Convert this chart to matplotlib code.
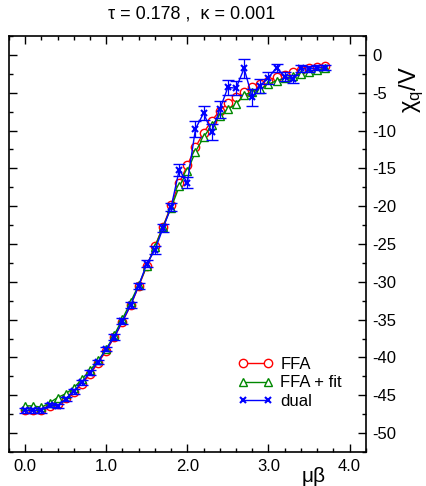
import numpy as np
import matplotlib
matplotlib.use("Agg")
import matplotlib.pyplot as plt
from matplotlib.ticker import MultipleLocator, FormatStrFormatter

plt.rcParams['font.family'] = ['Liberation Sans', 'DejaVu Sans']

# mu*beta values
mu_beta = [0.0, 0.1, 0.2, 0.3, 0.4, 0.5, 0.6, 0.7, 0.8, 0.9,
           1.0, 1.1, 1.2, 1.3, 1.4, 1.5, 1.6, 1.7, 1.8, 1.9,
           2.0, 2.1, 2.2, 2.3, 2.4, 2.5, 2.6, 2.7, 2.8, 2.9,
           3.0, 3.1, 3.2, 3.3, 3.4, 3.5, 3.6, 3.7]

ffa = [-47.0, -47.0, -47.0, -46.4, -46.1, -45.4, -44.6, -43.5, -42.2, -40.7,
       -39.1, -37.3, -35.3, -33.1, -30.6, -27.9, -25.3, -22.7, -19.9, -16.9,
       -14.6, -12.2, -10.3, -8.7, -7.4, -6.4, -5.6, -4.9, -4.3, -3.9,
       -3.4, -2.9, -2.6, -2.3, -2.0, -1.8, -1.6, -1.5]
ffa_err = [0.3] * 38

ffa_fit = [-46.4, -46.4, -46.6, -46.0, -45.3, -44.8, -44.0, -42.9, -41.7, -40.4,
           -38.9, -37.0, -34.9, -32.7, -30.4, -27.9, -25.4, -22.7, -20.2, -17.4,
           -15.4, -12.8, -10.9, -9.3, -8.1, -7.2, -6.5, -5.3, -4.9, -4.5,
           -3.9, -3.4, -3.1, -2.8, -2.5, -2.2, -2.0, -1.8]

dual = [-47.0, -47.0, -47.0, -46.3, -46.4, -45.5, -44.5, -43.3, -42.0, -40.6,
        -38.9, -37.3, -35.2, -33.1, -30.5, -27.6, -25.8, -22.9, -20.1, -15.2,
        -16.9, -9.8, -7.7, -10.2, -7.2, -4.3, -4.4, -1.8, -5.6, -4.1,
        -3.0, -1.7, -2.9, -3.2, -1.8, -1.9, -1.7, -1.7]
dual_err = [0.3, 0.3, 0.3, 0.3, 0.3, 0.3, 0.3, 0.3, 0.3, 0.3,
            0.3, 0.4, 0.4, 0.4, 0.4, 0.5, 0.5, 0.5, 0.5, 0.8,
            0.7, 1.0, 0.9, 1.0, 1.1, 1.0, 0.9, 1.2, 1.1, 0.9,
            0.8, 0.5, 0.6, 0.5, 0.5, 0.4, 0.3, 0.3]

fig = plt.figure(figsize=(4.26, 4.86), dpi=100)
ax = fig.add_axes([0.0211, 0.07, 0.8374, 0.856])

red, green, blue = '#ff0000', '#008800', '#0000ff'

ax.errorbar(mu_beta, ffa, yerr=ffa_err, fmt='none', ecolor=red, capsize=2.5,
            elinewidth=0.8, zorder=2)
ax.plot(mu_beta, ffa, color=red, lw=1, marker='o', ms=6, mfc='white', mec=red,
        mew=1, label='FFA', zorder=2)
ax.plot(mu_beta, ffa_fit, color=green, lw=1, marker='^', ms=6, mfc='white',
        mec=green, mew=1, label='FFA + fit', zorder=3)
ax.errorbar(mu_beta, dual, yerr=dual_err, fmt='none', ecolor=blue, capsize=4.5,
            elinewidth=0.9, zorder=4)
ax.plot(mu_beta, dual, color=blue, lw=1, marker='x', ms=4, mew=1.5, label='dual',
        zorder=4)

ax.set_xlim(-0.2, 4.2)
ax.set_ylim(-52.5, 2.5)
ax.xaxis.set_major_locator(MultipleLocator(1.0))
ax.xaxis.set_minor_locator(MultipleLocator(0.2))
ax.yaxis.set_major_locator(MultipleLocator(5))
ax.yaxis.set_minor_locator(MultipleLocator(2.5))
ax.xaxis.set_major_formatter(FormatStrFormatter('%.1f'))
ax.yaxis.set_major_formatter(FormatStrFormatter('%d'))
ax.tick_params(which='both', direction='in', top=True, bottom=True, left=True, right=True,
               labelleft=False, labelright=True, labelsize=12, width=1)
ax.tick_params(which='major', length=6, pad=5)
ax.tick_params(which='minor', length=3)
for s in ax.spines.values():
    s.set_linewidth(1.2)

ax.legend(loc='upper left', bbox_to_anchor=(238 / 426, 1 - 357 / 486),
          bbox_transform=fig.transFigure, frameon=False, numpoints=2,
          fontsize=12, handlelength=2.1, handletextpad=0.45, labelspacing=0.2,
          borderpad=0, borderaxespad=0)

fig.text(192 / 426, 1 - 14 / 486, 'τ = 0.178 ,  κ = 0.001', ha='center', va='center',
         fontsize=13)
fig.text(411 / 426, 1 - 90 / 486, r'χ$_\mathregular{q}$/V', ha='center', va='center',
         rotation=90, fontsize=17)
fig.text(314 / 426, 1 - 476 / 486, 'μβ', ha='center', va='center', fontsize=15)

fig.savefig('out.png', dpi=100)
